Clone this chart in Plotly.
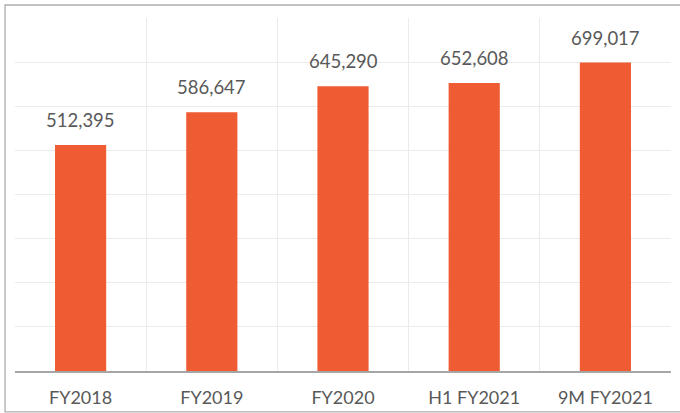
import plotly.graph_objects as go

categories = ["FY2018", "FY2019", "FY2020", "H1 FY2021", "9M FY2021"]
values = [512395, 586647, 645290, 652608, 699017]
labels = ["512,395", "586,647", "645,290", "652,608", "699,017"]

FONT = "Lato"
fig = go.Figure()
fig.add_trace(go.Bar(x=categories, y=values, marker=dict(color="#EF5B33", line=dict(width=0)),
                     width=0.39, hoverinfo="skip"))

for c, v, t in zip(categories, values, labels):
    fig.add_annotation(x=c, y=v, text=t, showarrow=False, yanchor="bottom", yshift=12,
                       font=dict(family=FONT, size=18.5, color="#595959"))

fig.add_shape(type="rect", xref="paper", yref="paper", x0=-0.0152, x1=1.03, y0=-0.116, y1=1.0368,
              line=dict(color="#ADADAD", width=1.3), fillcolor="rgba(0,0,0,0)", layer="below")

fig.update_layout(
    width=680, height=413,
    margin=dict(l=15, r=9, t=18, b=42, autoexpand=False),
    paper_bgcolor="white", plot_bgcolor="white",
    showlegend=False,
    bargap=0.61,
)
fig.update_xaxes(type="category", tickson="boundaries", showgrid=True, gridcolor="#EBEBEB", gridwidth=1.3,
                 showline=True, linecolor="#A6A6A6", linewidth=1.5, ticks="",
                 tickfont=dict(family=FONT, size=18, color="#595959"), ticklabelstandoff=10)
fig.update_yaxes(range=[0, 800000], dtick=100000, showticklabels=False, showgrid=True,
                 gridcolor="#EBEBEB", gridwidth=1.3, zeroline=False)

fig.write_html("out.html", config={"displayModeBar": False},
               post_script="document.body.style.margin='0';document.body.style.overflow='hidden';")
